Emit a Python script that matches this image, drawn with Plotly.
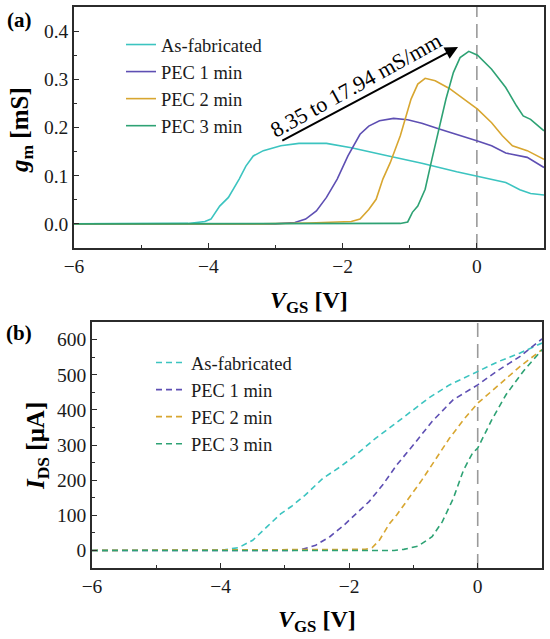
import plotly.graph_objects as go

####################################################################
# DATA
####################################################################

series_names = ["As-fabricated", "PEC 1 min", "PEC 2 min", "PEC 3 min"]
series_colors = ["#3cc4c0", "#5e4fb3", "#d8a630", "#2ea274"]

# (a) transconductance gm [mS] vs VGS [V]
gm_asfab_v = [-6.0, -4.6, -4.3, -4.05, -3.96, -3.83, -3.70, -3.54, -3.44, -3.33,
              -3.18, -2.92, -2.65, -2.24, -1.87, -1.35, -0.82, -0.30, 0.01,
              0.43, 0.64, 0.80, 1.0]
gm_asfab = [0.0, 0.0, 0.001, 0.005, 0.01, 0.037, 0.055, 0.093, 0.12, 0.141,
            0.152, 0.162, 0.167, 0.167, 0.158, 0.142, 0.126, 0.108, 0.098,
            0.086, 0.071, 0.063, 0.06]

gm_pec1_v = [-6.0, -3.0, -2.71, -2.55, -2.39, -2.24, -2.08, -1.92, -1.74, -1.61,
             -1.45, -1.24, -1.03, -0.82, -0.56, -0.30, 0.01, 0.22, 0.43, 0.75,
             1.0]
gm_pec1 = [0.0, 0.0, 0.003, 0.01, 0.027, 0.055, 0.093, 0.141, 0.186, 0.203,
           0.214, 0.219, 0.216, 0.209, 0.197, 0.186, 0.172, 0.162, 0.147, 0.138,
           0.117]

gm_pec2_v = [-6.0, -3.2, -2.5, -1.87, -1.74, -1.61, -1.50, -1.40, -1.29, -1.14,
             -0.98, -0.88, -0.77, -0.62, -0.41, -0.20, 0.01, 0.22, 0.38, 0.53,
             0.75, 1.0]
gm_pec2 = [0.0, 0.0, 0.002, 0.005, 0.01, 0.03, 0.051, 0.093, 0.127, 0.183,
           0.259, 0.29, 0.302, 0.297, 0.281, 0.259, 0.238, 0.21, 0.183, 0.162,
           0.152, 0.134]

gm_pec3_v = [-6.0, -1.14, -1.03, -0.96, -0.88, -0.77, -0.67, -0.56, -0.46, -0.35,
             -0.25, -0.12, 0.01, 0.22, 0.43, 0.59, 0.69, 0.80, 1.0]
gm_pec3 = [0.0, 0.001, 0.004, 0.024, 0.037, 0.072, 0.134, 0.203, 0.259, 0.314,
           0.345, 0.358, 0.35, 0.321, 0.283, 0.245, 0.224, 0.217, 0.193]

# (b) drain current IDS [uA] vs VGS [V]
ids_asfab_v = [-6.0, -3.94, -3.72, -3.50, -3.28, -3.06, -2.90, -2.68, -2.41, -2.13,
               -1.86, -1.59, -1.31, -1.04, -0.76, -0.44, 0.0, 0.33, 0.66, 1.0]
ids_asfab = [0, 2, 8, 29, 67, 105, 125, 158, 205, 239,
             277, 319, 357, 395, 434, 471, 510, 538, 562, 590]

ids_pec1_v = [-6.0, -2.9, -2.73, -2.52, -2.30, -2.08, -1.86, -1.69, -1.48, -1.26,
              -0.98, -0.71, -0.38, 0.0, 0.33, 0.66, 1.0]
ids_pec1 = [0, 0, 3, 15, 39, 72, 110, 139, 186, 243,
            305, 367, 429, 471, 514, 552, 602]

ids_pec2_v = [-6.0, -1.75, -1.64, -1.53, -1.37, -1.26, -1.09, -0.87, -0.66, -0.44,
              -0.22, 0.0, 0.33, 0.66, 1.0]
ids_pec2 = [0, 3, 8, 29, 77, 101, 144, 200, 258, 319,
            372, 419, 471, 524, 571]

ids_pec3_v = [-6.0, -1.3, -1.15, -0.93, -0.71, -0.55, -0.38, -0.22, -0.08, 0.0,
              0.22, 0.44, 0.71, 1.0]
ids_pec3 = [0, 0, 3, 12, 39, 82, 148, 229, 277, 291,
            372, 443, 510, 571]

gm_curves = [
    (gm_asfab_v, gm_asfab),
    (gm_pec1_v, gm_pec1),
    (gm_pec2_v, gm_pec2),
    (gm_pec3_v, gm_pec3),
]

ids_curves = [
    (ids_asfab_v, ids_asfab),
    (ids_pec1_v, ids_pec1),
    (ids_pec2_v, ids_pec2),
    (ids_pec3_v, ids_pec3),
]

FONT = "Liberation Serif"
AXIS_COLOR = "#2b2b2b"
W, H = 550, 639

####################################################################
# TRACES
####################################################################

fig = go.Figure()

for name, color, (v, g) in zip(series_names, series_colors, gm_curves):

    fig.add_trace(
        go.Scatter(
            x=v,
            y=g,
            name=name,
            mode="lines",
            line=dict(color=color, width=1.6),
            xaxis="x",
            yaxis="y",
            legend="legend"
        )
    )

for name, color, (v, i) in zip(series_names, series_colors, ids_curves):

    fig.add_trace(
        go.Scatter(
            x=v,
            y=i,
            name=name,
            mode="lines",
            line=dict(color=color, width=1.6, dash="6px,4px"),
            xaxis="x2",
            yaxis="y2",
            legend="legend2"
        )
    )

####################################################################
# AXES
####################################################################

def _axis(**kw):

    base = dict(
        automargin=False,
        showline=True,
        mirror=True,
        linewidth=1.6,
        linecolor=AXIS_COLOR,
        showgrid=False,
        zeroline=False,
        ticks="inside",
        ticklen=5,
        tickwidth=1.2,
        tickcolor=AXIS_COLOR,
        tickfont=dict(family=FONT, size=19.5, color="#1a1a1a"),
    )
    base.update(kw)
    return base


fig.update_layout(

    width=W,
    height=H,
    margin=dict(l=0, r=0, t=0, b=0, autoexpand=False),
    paper_bgcolor="white",
    plot_bgcolor="white",
    font=dict(family=FONT, size=18, color="#1a1a1a"),

    xaxis=_axis(
        domain=[74 / W, 544 / W],
        range=[-6, 1],
        dtick=2,
        tick0=0,
        anchor="y",
        minor=dict(ticks="inside", ticklen=3, dtick=1, tickcolor=AXIS_COLOR)
    ),

    yaxis=_axis(
        domain=[1 - 248 / H, 1 - 7 / H],
        range=[-0.05, 0.45],
        dtick=0.1,
        tick0=0,
        tickformat=".1f",
        anchor="x",
        minor=dict(ticks="inside", ticklen=3, dtick=0.05, tickcolor=AXIS_COLOR)
    ),

    xaxis2=_axis(
        domain=[92 / W, 542 / W],
        range=[-6, 1],
        dtick=2,
        tick0=0,
        anchor="y2",
        minor=dict(ticks="inside", ticklen=3, dtick=1, tickcolor=AXIS_COLOR)
    ),

    yaxis2=_axis(
        domain=[1 - 568 / H, 1 - 322 / H],
        range=[-50, 650],
        dtick=100,
        tick0=0,
        anchor="x2",
        minor=dict(ticks="inside", ticklen=3, dtick=50, tickcolor=AXIS_COLOR)
    ),

    legend=dict(
        x=121 / W,
        y=1 - 26 / H,
        xanchor="left",
        yanchor="top",
        bgcolor="rgba(0,0,0,0)",
        font=dict(family=FONT, size=18.5),
        tracegroupgap=0
    ),

    legend2=dict(
        x=151 / W,
        y=1 - 344 / H,
        xanchor="left",
        yanchor="top",
        bgcolor="rgba(0,0,0,0)",
        font=dict(family=FONT, size=18.5),
        tracegroupgap=0
    ),

    showlegend=True
)

####################################################################
# REFERENCE LINES AT VGS = 0
####################################################################

for xref, yref in [("x", "y domain"), ("x2", "y2 domain")]:

    fig.add_shape(
        type="line",
        xref=xref,
        yref=yref,
        x0=0,
        x1=0,
        y0=0,
        y1=1,
        line=dict(color="#9a9a9a", width=1.6, dash="14px,7px"),
        layer="below"
    )

####################################################################
# ANNOTATIONS
####################################################################

# arrow showing the gm increase
fig.add_annotation(
    x=-0.28, y=0.367, xref="x", yref="y",
    ax=-2.92, ay=0.171, axref="x", ayref="y",
    text="",
    showarrow=True,
    arrowhead=2,
    arrowsize=1.3,
    arrowwidth=2,
    arrowcolor="black"
)

labels = [
    ("8.35 to 17.94 mS/mm", 355, 85, 22, -29),
    ("<b>(a)</b>", 19, 20, 21, 0),
    ("<b>(b)</b>", 19, 333, 21, 0),
    ("<b><i>V</i><sub>GS</sub> [V]</b>", 309, 302, 24, 0),
    ("<b><i>V</i><sub>GS</sub> [V]</b>", 317, 621, 24, 0),
    ("<b><i>g</i><sub>m</sub> [mS]</b>", 21, 130, 25, -90),
    ("<b><i>I</i><sub>DS</sub> [μA]</b>", 37, 446, 25, -90),
]

for text, px_x, px_y, size, angle in labels:

    fig.add_annotation(
        x=px_x / W,
        y=1 - px_y / H,
        xref="paper",
        yref="paper",
        xanchor="center",
        yanchor="middle",
        text=text,
        textangle=angle,
        showarrow=False,
        font=dict(family=FONT, size=size, color="black")
    )

fig.write_html(
    "out.html",
    config={"displayModeBar": False},
    post_script="document.body.style.margin='0px';"
)
